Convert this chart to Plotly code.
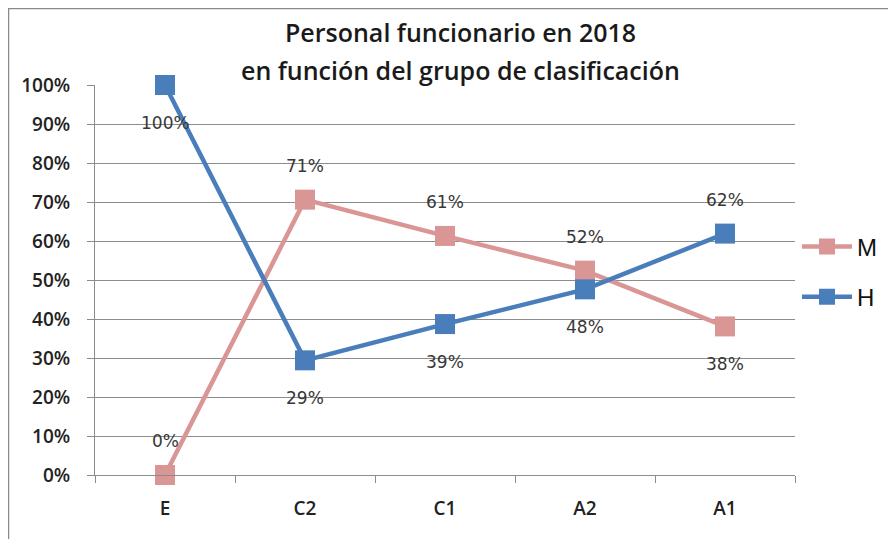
import plotly.graph_objects as go

categories = ["E", "C2", "C1", "A2", "A1"]
m_values = [0.0, 70.6, 61.3, 52.4, 38.1]
h_values = [100.0, 29.4, 38.7, 47.6, 61.9]
y_ticks = [0, 10, 20, 30, 40, 50, 60, 70, 80, 90, 100]
m_label_side = ["above", "above", "above", "above", "below"]
h_label_side = ["below", "below", "below", "below", "above"]

title_lines = ["Personal funcionario en 2018", "en función del grupo de clasificación"]

M_COLOR = "#D99694"
H_COLOR = "#4A7EBB"
GRID = "#8C8C8C"

# page has an 8px body margin; figure spans page pixels 8..896 x 8..539
OFF = 8
W, H = 896 - OFF, 539 - OFF
L, R, T, B = 95 - OFF, 896 - 795, 85 - OFF, 539 - 475
PW, PH = W - L - R, H - T - B

def px_x(px):
    return (px - OFF - L) / PW

def px_y(py):
    return (H - B - (py - OFF)) / PH

fig = go.Figure()
fig.add_trace(go.Scatter(
    x=categories, y=m_values, name="M", mode="lines+markers",
    line=dict(color=M_COLOR, width=4.5),
    marker=dict(symbol="square", size=20, color=M_COLOR),
    cliponaxis=False, legendgroup="m"))
fig.add_trace(go.Scatter(
    x=categories, y=h_values, name="H", mode="lines+markers",
    line=dict(color=H_COLOR, width=4.5),
    marker=dict(symbol="square", size=20, color=H_COLOR),
    cliponaxis=False, legendgroup="h"))

annotations = []
for vals, sides in ((m_values, m_label_side), (h_values, h_label_side)):
    for c, v, s in zip(categories, vals, sides):
        annotations.append(dict(
            x=c, y=v, xref="x", yref="y", text=f"{round(v)}%", showarrow=False,
            yshift=34 if s == "above" else -38,
            font=dict(family="DejaVu Sans", size=17, color="#383838")))

for i, line in enumerate(title_lines):
    annotations.append(dict(
        x=px_x(460), y=px_y([32, 70][i]), xref="paper", yref="paper",
        text=line, showarrow=False, xanchor="center", yanchor="middle",
        font=dict(family="Open Sans", size=25, color="#1a1a1a", weight=600)))

fig.update_layout(
    width=W, height=H,
    margin=dict(l=L, r=R, t=T, b=B),
    paper_bgcolor="white", plot_bgcolor="white",
    showlegend=True,
    legend=dict(x=px_x(797), y=px_y(272), xanchor="left", yanchor="middle",
                font=dict(family="Liberation Sans", size=24, color="#111"),
                itemwidth=50,
                traceorder="grouped", tracegroupgap=16, bgcolor="rgba(0,0,0,0)"),
    annotations=annotations,
    shapes=[dict(type="rect", xref="paper", yref="paper",
                 x0=px_x(8.5), y0=px_y(580), x1=px_x(960), y1=px_y(8.5),
                 line=dict(color="#8a8a8a", width=1.5), fillcolor="rgba(0,0,0,0)",
                 layer="below")],
)

fig.update_xaxes(
    type="category", showgrid=False, showline=True, linecolor=GRID, linewidth=1,
    ticks="outside", tickson="boundaries", ticklen=7, tickcolor=GRID,
    tickfont=dict(family="Open Sans", size=19, color="#222", weight=600),
    ticklabelstandoff=16, range=[-0.5, 4.5])
fig.update_yaxes(
    range=[0, 100], tickvals=y_ticks, ticktext=[f"{t}%" for t in y_ticks],
    showgrid=True, gridcolor=GRID, gridwidth=1, zeroline=False,
    showline=True, linecolor=GRID, linewidth=1,
    ticks="outside", ticklen=7, tickcolor=GRID,
    tickfont=dict(family="Open Sans", size=19, color="#222", weight=600),
    ticklabelstandoff=13)

fig.write_html("out.html")
